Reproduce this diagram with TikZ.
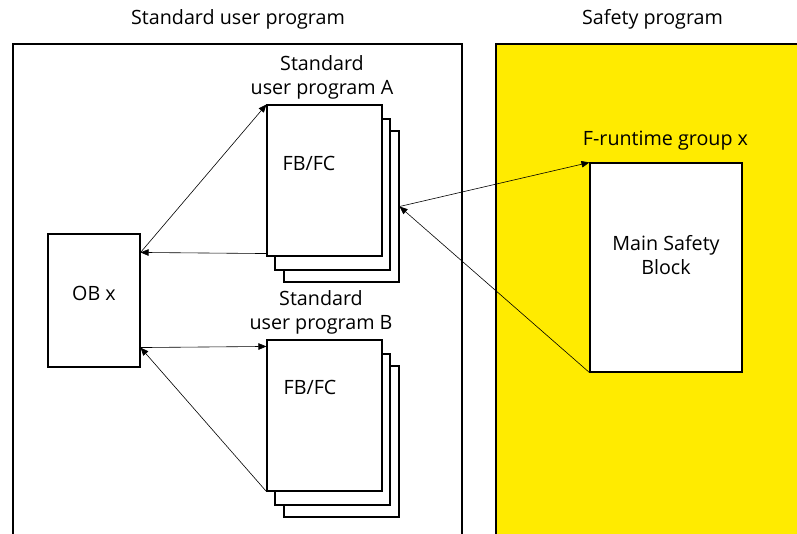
\documentclass[tikz,border=0pt]{standalone}
\usepackage{fontspec}
\setmainfont{Open Sans}
\usetikzlibrary{arrows.meta,calc}
\definecolor{safetyyellow}{RGB}{255,235,0}
\tikzset{
  box/.style={draw=black, line width=1.1pt},
  page/.style={draw=black, line width=1.1pt, fill=white, minimum width=115pt, minimum height=151pt, inner sep=0pt},
  lbl/.style={font=\fontsize{19.7}{24}\selectfont, inner sep=0pt, align=center},
  arr/.style={draw=black, line width=0.6pt, -{Triangle[length=8pt,width=6.5pt]}},
}
\begin{document}
\begin{tikzpicture}[x=1pt,y=-1pt]
\useasboundingbox (0,0) rectangle (797,534);
% Safety area
\fill[safetyyellow] (496,44) rectangle (797,534);
\draw[box] (496,534) -- (496,44) -- (797,44);
% Standard area
\draw[box] (13,534) -- (13,44) -- (462,44) -- (462,534);
\node[lbl] (tstd) at (238,19.5) {Standard user program};
\node[lbl] (tsafe) at (652.5,19.5) {Safety program};
% OB x
\node[box, minimum width=92pt, minimum height=133pt, inner sep=0pt] (OB) at (94,300.5) {};
\node[lbl] (OBl) at (94,293) {OB x};
% Stack A
\node[page] (Athird) at (341.5,206.5) {};
\node[page] (Asecond) at (332.5,194.5) {};
\node[page] (Afront) at (324.5,180.5) {};
\node[lbl] (Afb) at (309,163) {FB/FC};
\node[lbl] (Atitle) at (322,77) {Standard\\user program A};
% Stack B
\node[page] (Bthird) at (341.5,441.5) {};
\node[page] (Bsecond) at (332.5,429.5) {};
\node[page] (Bfront) at (324.5,415.5) {};
\node[lbl] (Bfb) at (310,387) {FB/FC};
\node[lbl] (Btitle) at (321,312) {Standard\\user program B};
% Main safety block
\node[box, fill=white, minimum width=152pt, minimum height=209pt, inner sep=0pt] (MSB) at (666,267.5) {};
\node[lbl] (MSBl) at (666,255) {Main Safety\\Block};
\node[lbl] (Fgrp) at (665.5,140.5) {F-runtime group x};
% connection points
\coordinate (OBa) at ($(OB.north east)+(0,19)$);
\coordinate (OBb) at ($(OB.south east)+(0,-20)$);
\coordinate (Aout) at ($(Afront.south west)+(0,-3)$);
\coordinate (Bin) at ($(Bfront.north west)+(0,7)$);
% arrows
\draw[arr] (OBa) -- (Afront.north west);
\draw[arr] (Aout) -- (OBa);
\draw[arr] (OBb) -- (Bin);
\draw[arr] (Bfront.south west) -- (OBb);
\draw[arr] (Athird.east) -- (MSB.north west);
\draw[arr] (MSB.south west) -- (Athird.east);
\end{tikzpicture}
\end{document}
